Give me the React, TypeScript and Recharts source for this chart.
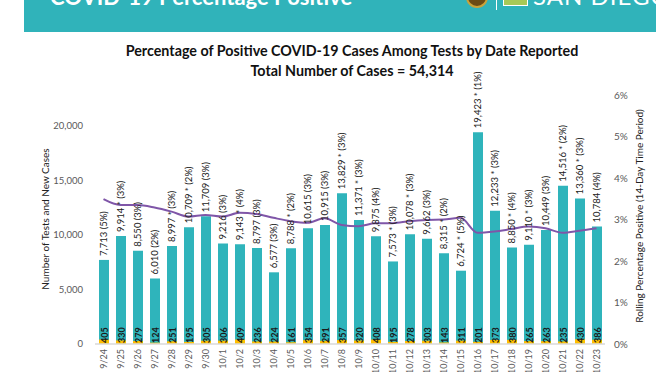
import React from 'react'
import { ComposedChart, Bar, Line, XAxis, YAxis, LabelList, Label } from 'recharts'

const dates = ['9/24', '9/25', '9/26', '9/27', '9/28', '9/29', '9/30', '10/1', '10/2', '10/3', '10/4', '10/5', '10/6', '10/7', '10/8', '10/9', '10/10', '10/11', '10/12', '10/13', '10/14', '10/15', '10/16', '10/17', '10/18', '10/19', '10/20', '10/21', '10/22', '10/23']
const tests = [7713, 9914, 8550, 6010, 8997, 10709, 11709, 9216, 9143, 8797, 6577, 8788, 10615, 10915, 13829, 11371, 9875, 7573, 10078, 9662, 8315, 6724, 19423, 12233, 8850, 9110, 10449, 14516, 13360, 10784]
const starred = [false, true, false, false, true, true, false, false, true, false, false, true, false, false, true, true, false, true, true, false, true, true, true, true, true, true, false, true, true, false]
const dailyPct = ['5%', '3%', '3%', '2%', '3%', '2%', '3%', '3%', '4%', '3%', '3%', '2%', '3%', '3%', '3%', '3%', '4%', '3%', '3%', '3%', '2%', '5%', '1%', '3%', '4%', '3%', '3%', '2%', '3%', '4%']
const cases = [405, 330, 279, 124, 251, 195, 305, 306, 409, 236, 224, 161, 354, 291, 357, 320, 408, 195, 278, 303, 143, 311, 201, 373, 380, 265, 263, 235, 430, 386]
const rolling = [0.0349, 0.0335, 0.0335, 0.0329, 0.0319, 0.0307, 0.0311, 0.0307, 0.0316, 0.0313, 0.0304, 0.0296, 0.0292, 0.0303, 0.0287, 0.0284, 0.0291, 0.0291, 0.0296, 0.0299, 0.0300, 0.0304, 0.0268, 0.0271, 0.0277, 0.0283, 0.0279, 0.0268, 0.0273, 0.0279]

const leftTicks = [0, 5000, 10000, 15000, 20000]
const rightTicks = [0, 0.01, 0.02, 0.03, 0.04, 0.05, 0.06]

const TEAL = '#2fb4bb'
const GOLD = '#ffc000'
const PURPLE = '#7f56a8'
const AXIS_TEXT = '#595959'
const FONT = 'Lato, "Open Sans", sans-serif'

const data = dates.map((d, i) => ({
  date: d,
  tests: tests[i],
  cases: cases[i],
  rolling: rolling[i],
  label: `${tests[i].toLocaleString('en-US')}${starred[i] ? ' * ' : '  '}(${dailyPct[i]})`,
}))

const XTick = (props: any) => {
  const { x, y, payload } = props
  return (
    <text x={x} y={y} transform={`rotate(-90 ${x} ${y})`} textAnchor="end" dominantBaseline="central" fontSize={9} fill={AXIS_TEXT} fontFamily={FONT}>
      {payload.value}
    </text>
  )
}

const TestsLabel = (props: any) => {
  const { x, y, width, index } = props
  const cx = x + width / 2
  const ty = y - 4
  return (
    <text x={cx} y={ty} transform={`rotate(-90 ${cx} ${ty})`} textAnchor="start" dominantBaseline="central" fontSize={9.5} fill="#222" fontFamily={FONT}>
      {data[index].label}
    </text>
  )
}

const CasesLabel = (props: any) => {
  const { x, y, width, height, value } = props
  const cx = x + width / 2
  const ty = y + height - 1
  return (
    <text x={cx} y={ty} transform={`rotate(-90 ${cx} ${ty})`} textAnchor="start" dominantBaseline="central" fontSize={9} fontWeight="bold" fill="#1a1a1a" fontFamily={FONT}>
      {value}
    </text>
  )
}

export default function App() {
  return (
    <div style={{ position: 'absolute', left: 0, top: 0, width: 672, height: 372, background: '#fff', overflow: 'hidden', fontFamily: FONT }}>
      <div style={{ position: 'absolute', left: 24, top: 0, width: 632, height: 32, background: '#30b3ba', overflow: 'hidden' }}>
        <div style={{ position: 'absolute', left: 26, top: -14, color: '#fff', fontWeight: 'bold', fontSize: 22, lineHeight: '22px', whiteSpace: 'nowrap' }}>COVID-19 Percentage Positive</div>
        <div style={{ position: 'absolute', left: 442, top: -14, width: 18, height: 18, borderRadius: 11, background: '#6b4a14', border: '2px solid #c9a23a' }} />
        <div style={{ position: 'absolute', left: 472, top: 0, width: 1, height: 10, background: '#fff' }} />
        <div style={{ position: 'absolute', left: 479, top: -8, width: 23, height: 12, background: '#a7c957', border: '1px solid #fff' }} />
        <div style={{ position: 'absolute', left: 509, top: -16, color: '#fff', fontSize: 24, lineHeight: '24px', letterSpacing: 1, whiteSpace: 'nowrap' }}>SAN DIEGO</div>
      </div>
      <div style={{ position: 'absolute', left: 0, width: 704, top: 41, textAlign: 'center', fontWeight: 'bold', fontSize: 14.3, lineHeight: '20px', color: '#111' }}>
        <div>Percentage of Positive COVID-19 Cases Among Tests by Date Reported</div>
        <div>Total Number of Cases = 54,314</div>
      </div>
      <div style={{ position: 'absolute', left: 0, top: 0 }}>
        <ComposedChart width={672} height={372} data={data} margin={{ top: 95, right: 0, bottom: 0, left: 0 }} barGap={-10}>
          <XAxis dataKey="date" height={28} interval={0} tick={<XTick />} tickLine={false} axisLine={{ stroke: '#d9d9d9', strokeWidth: 1.5 }} tickSize={0} tickMargin={5} />
          <YAxis yAxisId="left" orientation="left" width={95} domain={[0, 22844]} ticks={leftTicks} interval={0} axisLine={false} tickLine={false} tickSize={0} tickMargin={12} tick={{ fontSize: 9.5, fill: AXIS_TEXT, fontFamily: FONT }} tickFormatter={(v: number) => v.toLocaleString('en-US')}>
            <Label content={() => (
              <text x={45} y={219} transform="rotate(-90 45 219)" textAnchor="middle" dominantBaseline="central" fontSize={10} fill="#222" fontFamily={FONT}>Number of Tests and New Cases</text>
            )} />
          </YAxis>
          <YAxis yAxisId="right" orientation="right" width={67} domain={[0, 0.06]} ticks={rightTicks} interval={0} axisLine={false} tickLine={false} tickSize={0} tickMargin={9} tick={{ fontSize: 10, fill: AXIS_TEXT, fontFamily: FONT }} tickFormatter={(v: number) => `${Math.round(v * 100)}%`}>
            <Label content={() => (
              <text x={639} y={216} transform="rotate(-90 639 216)" textAnchor="middle" dominantBaseline="central" fontSize={10} fill="#222" fontFamily={FONT}>Rolling Percentage Positive (14-Day Time Period)</text>
            )} />
          </YAxis>
          <Bar yAxisId="left" dataKey="tests" fill={TEAL} barSize={10} isAnimationActive={false}>
            <LabelList dataKey="tests" content={<TestsLabel />} />
          </Bar>
          <Bar yAxisId="left" dataKey="cases" fill={GOLD} barSize={10} isAnimationActive={false}>
            <LabelList dataKey="cases" content={<CasesLabel />} />
          </Bar>
          <Line yAxisId="right" dataKey="rolling" type="monotone" stroke={PURPLE} strokeWidth={2} dot={false} isAnimationActive={false} />
        </ComposedChart>
      </div>
    </div>
  )
}
